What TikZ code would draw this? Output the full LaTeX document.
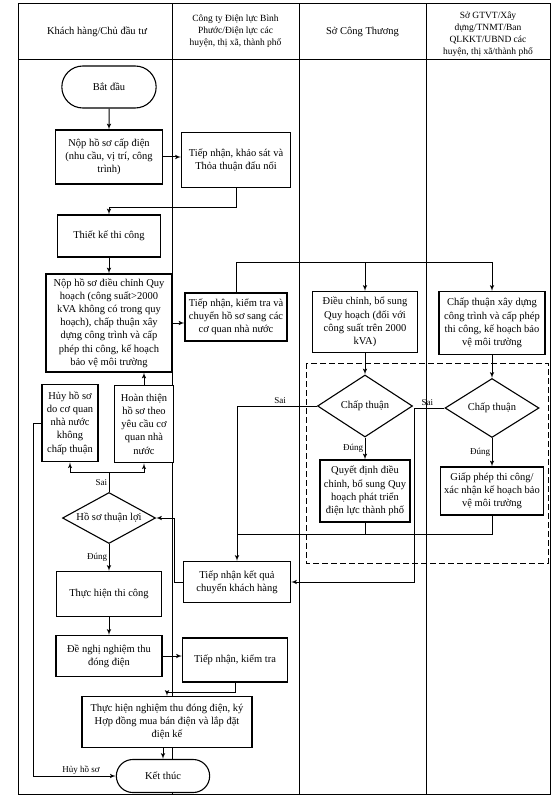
\documentclass[tikz,border=0pt]{standalone}
\usepackage{fontspec}
\setmainfont{Liberation Serif}
\usepackage{tikz}
\usetikzlibrary{arrows, shapes.geometric, shapes.misc}

\newcommand{\boxfont}{\fontsize{10.5}{13.2}\selectfont}
\newcommand{\headfont}{\fontsize{9.5}{12}\selectfont}
\newcommand{\lblfont}{\fontsize{9}{10}\selectfont}

\tikzset{
  stepbox/.style={rectangle, draw, line width=1.1pt, fill=white, align=center, inner sep=1pt, font=\boxfont},
  heavybox/.style={stepbox, line width=1.8pt},
  endbox/.style={rounded rectangle, draw, line width=1.1pt, fill=white, font=\boxfont},
  decision/.style={diamond, draw, line width=1.1pt, fill=white, align=center, inner sep=0pt, aspect=1.6, font=\boxfont},
  conn/.style={line width=1pt, -latex'},
  wire/.style={line width=1pt},
  lbl/.style={font=\lblfont, inner sep=1.5pt},
  head/.style={align=center, font=\boxfont}
}

\begin{document}
\begin{tikzpicture}[x=1pt, y=-1pt]
\useasboundingbox (0,0) rectangle (558,805);

% frame and lanes
\draw[line width=1pt] (18,4) rectangle (550,794);
\draw[line width=1pt] (18,60) -- (550,60);
\foreach \lx in {172, 299, 426}
	\draw[line width=0.9pt] (\lx,4) -- (\lx,794);

\node[head] (h1) at (97,32) {Khách hàng/Chủ đầu tư};
\node[head, font=\headfont] (h2) at (235.5,31) {Công ty Điện lực Bình\\Phước/Điện lực các\\huyện, thị xã, thành phố};
\node[head] (h3) at (362.5,32) {Sở Công Thương};
\node[head, font=\headfont] (h4) at (488,34) {Sở GTVT/Xây\\dựng/TNMT/Ban\\QLKKT/UBND các\\huyện, thị xã/thành phố};

% group of the two approvals
\draw[dashed, dash pattern=on 6pt off 3pt, line width=1pt] (306,363) rectangle (548,563);

% customer lane
\node[endbox, minimum width=101pt, minimum height=42pt] (start) at (109,87) {Bắt đầu};
\node[stepbox, minimum width=107pt, minimum height=54pt] (apply) at (109,157) {Nộp hồ sơ cấp điện\\(nhu cầu, vị trí, công\\trình)};
\node[stepbox, minimum width=103pt, minimum height=42pt] (design) at (109,236) {Thiết kế thi công};
\node[stepbox, minimum width=126pt, minimum height=98pt] (adjust) at (109,323) {Nộp hồ sơ điều chỉnh Quy\\hoạch (công suất>2000\\kVA không có trong quy\\hoạch), chấp thuận xây\\dựng công trình và cấp\\phép thi công, kế hoạch\\bảo vệ môi trường};
\node[heavybox, minimum width=56pt, minimum height=77pt] (cancel) at (70,423) {Hủy hồ sơ\\do cơ quan\\nhà nước\\không\\chấp thuận};
\node[heavybox, minimum width=59pt, minimum height=77pt] (fix) at (144,424) {Hoàn thiện\\hồ sơ theo\\yêu cầu cơ\\quan nhà\\nước};
\node[decision, aspect=1.8, minimum width=93pt, minimum height=51pt] (ok3) at (109,518) {Hồ sơ thuận lợi};
\node[stepbox, minimum width=105pt, minimum height=45pt] (build) at (109,594) {Thực hiện thi công};
\node[stepbox, minimum width=106pt, minimum height=41pt] (request) at (109,656) {Đề nghị nghiệm thu\\đóng điện};
\node[stepbox, minimum width=170pt, minimum height=51pt] (accept) at (167,722) {Thực hiện nghiệm thu đóng điện, ký\\Hợp đồng mua bán điện và lắp đặt\\điện kế};
\node[endbox, minimum width=100pt, minimum height=33pt] (finish) at (163,776) {Kết thúc};

% power company lane
\node[stepbox, minimum width=109pt, minimum height=55pt] (survey) at (236,160) {Tiếp nhận, khảo sát và\\Thỏa thuận đấu nối};
\node[stepbox, minimum width=102pt, minimum height=48pt] (forward) at (236,317) {Tiếp nhận, kiểm tra và\\chuyển hồ sơ sang các\\cơ quan nhà nước};
\node[stepbox, minimum width=107pt, minimum height=41pt] (result) at (237,582) {Tiếp nhận kết quả\\chuyển khách hàng};
\node[stepbox, minimum width=105pt, minimum height=44pt] (check) at (235,660) {Tiếp nhận, kiểm tra};

% department of industry and trade
\node[stepbox, minimum width=105pt, minimum height=61pt] (plan) at (365,322) {Điều chỉnh, bổ sung\\Quy hoạch (đối với\\công suất trên 2000\\kVA)};
\node[decision, aspect=1.5, minimum width=95pt, minimum height=62pt] (ok1) at (365,406) {Chấp thuận};
\node[stepbox, minimum width=90pt, minimum height=62pt] (decide) at (365,491) {Quyết định điều\\chỉnh, bổ sung Quy\\hoạch phát triển\\điện lực thành phố};

% other authorities
\node[stepbox, minimum width=106pt, minimum height=63pt] (permit) at (492,323) {Chấp thuận xây dựng\\công trình và cấp phép\\thi công, kế hoạch bảo\\vệ môi trường};
\node[decision, aspect=1.6, minimum width=94pt, minimum height=59pt] (ok2) at (492,408) {Chấp thuận};
\node[stepbox, minimum width=103pt, minimum height=48pt] (licence) at (492,491) {Giấp phép thi công/\\xác nhận kế hoạch bảo\\vệ môi trường};

% connectors
\draw[conn] (start) -- (apply);
\draw[conn] (apply.east) -- (apply.east -| survey.west);
\draw[conn] (survey.south) -- ++(0,19) -| (design.north);
\draw[conn] (design) -- (adjust);
\draw[conn] (adjust.east) -- (adjust.east -| forward.west);

\coordinate (fsplit) at (forward.north |- 0,262);
\draw[conn] (forward.north) -- (fsplit) -| (permit.north);
\draw[conn] (plan.north |- fsplit) -- (plan.north);

\draw[conn] (plan) -- (ok1);
\draw[conn] (permit) -- (ok2);
\draw[conn] (ok1.west) -| node[lbl, pos=0.23, above] (sai1) {Sai} (result.north);
\draw[conn] (ok1) -- node[lbl, left] (dung1) {Đúng} (decide);
\draw[conn] (ok2) -- node[lbl, left] (dung2) {Đúng} (licence);
\draw[conn] (ok2.west) -- node[lbl, pos=0.57, above] (sai2) {Sai} ++(-30,0) |- (result.east);

\coordinate (join) at (result.north |- 0,534);
\draw[wire] (decide.south) -- (decide.south |- join);
\draw[wire] (licence.south) |- (join);

\draw[conn] (result.west) -- ++(-8,0) |- (ok3.east);
\draw[wire] (ok3.north) -- node[lbl, left] (sai3) {Sai} ++(0,-19) coordinate (s3);
\draw[conn] (s3) -| (cancel.south);
\draw[conn] (s3) -| (fix.south);
\draw[conn] (fix.north) -- (fix.north |- adjust.south);
\draw[conn] (cancel.west) -- ++(-8,0) |- node[lbl, pos=0.79, above] (huy) {Hủy hồ sơ} (finish.west);

\draw[conn] (ok3) -- node[lbl, left] (dung3) {Đúng} (build);
\draw[conn] (build) -- (request);
\draw[conn] (request.east) -- (request.east -| check.west);
\draw[conn] (check.south) -- ++(0,10) -| (accept.north);
\draw[conn] (accept.south -| finish.north) -- (finish.north);

\end{tikzpicture}
\end{document}
